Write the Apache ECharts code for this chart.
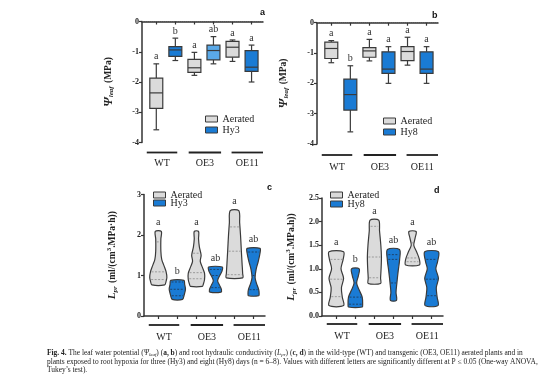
<!DOCTYPE html>
<html><head><meta charset="utf-8">
<script src="https://cdn.jsdelivr.net/npm/echarts@6/dist/echarts.min.js"></script>
<style>html,body{margin:0;padding:0;background:#fff}#c{width:554px;height:389px}</style>
</head><body><div id="c"></div>
<script>
// ---------- data ----------
const groups = ['WT', 'OE3', 'OE11'];
const groupSpans = [[0.5, 2.1], [2.7, 4.4], [4.95, 6.6]];
const posAer = [1, 3, 5];
const posHyp = [2, 4, 6];

// Panel a: Ψleaf (MPa) boxes [min, q1, median, q3, max]
const aAerated = [[-3.58, -2.87, -2.36, -1.87, -1.40], [-1.78, -1.68, -1.53, -1.25, -1.02], [-1.32, -1.18, -0.85, -0.66, -0.61]];
const aHy3 = [[-1.29, -1.15, -0.94, -0.83, -0.55], [-1.40, -1.27, -0.96, -0.78, -0.50], [-2.00, -1.65, -1.51, -0.96, -0.78]];
const aLettersAer = ['a', 'a', 'a'];
const aLettersHyp = ['b', 'ab', 'a'];

// Panel b
const bAerated = [[-1.32, -1.18, -0.85, -0.64, -0.59], [-1.26, -1.14, -0.93, -0.82, -0.55], [-1.40, -1.25, -0.95, -0.79, -0.48]];
const bHy8 = [[-3.60, -2.88, -2.37, -1.86, -1.42], [-2.00, -1.67, -1.53, -0.96, -0.79], [-2.00, -1.67, -1.53, -0.96, -0.79]];
const bLettersAer = ['a', 'a', 'a'];
const bLettersHyp = ['b', 'a', 'a'];

// Panel c: Lpr violins, profile = [value, relative half width]
const cAerProfiles = [
  [[2.09, 0.35], [1.9, 0.3], [1.6, 0.3], [1.4, 0.4], [1.25, 0.65], [1.1, 0.9], [0.95, 1.0], [0.85, 0.9], [0.77, 0.75]],
  [[2.09, 0.25], [1.9, 0.25], [1.7, 0.35], [1.5, 0.55], [1.35, 0.45], [1.2, 0.7], [1.05, 0.95], [0.9, 0.95], [0.78, 0.8], [0.73, 0.7]],
  [[2.6, 0.5], [2.3, 0.6], [2.0, 0.7], [1.6, 0.8], [1.3, 0.88], [1.05, 0.95], [0.94, 0.95]]
];
const cHy3Profiles = [
  [[0.88, 0.77], [0.78, 0.85], [0.66, 0.95], [0.52, 0.8], [0.41, 0.6]],
  [[1.21, 0.8], [1.1, 0.75], [1.0, 0.5], [0.87, 0.25], [0.75, 0.5], [0.65, 0.7], [0.59, 0.65]],
  [[1.67, 0.75], [1.55, 0.75], [1.35, 0.55], [1.15, 0.3], [0.95, 0.18], [0.8, 0.35], [0.65, 0.6], [0.55, 0.65], [0.5, 0.6]]
];
const cAerQuart = [[0.9, 1.09, 1.83], [0.92, 1.07, 1.55], [1.02, 1.6, 2.2]];
const cHy3Quart = [[0.5, 0.66, 0.84], [0.7, 1.0, 1.15], [0.65, 1.0, 1.58]];
const cLettersAer = ['a', 'a', 'a'];
const cLettersHyp = ['b', 'ab', 'ab'];

// Panel d
const dAerProfiles = [
  [[1.36, 0.85], [1.2, 0.8], [1.0, 0.55], [0.8, 0.85], [0.6, 0.6], [0.4, 0.7], [0.22, 0.85]],
  [[2.03, 0.5], [1.8, 0.6], [1.5, 0.75], [1.25, 0.82], [1.0, 0.78], [0.8, 0.72], [0.69, 0.72]],
  [[1.79, 0.42], [1.65, 0.3], [1.5, 0.15], [1.35, 0.5], [1.2, 0.8], [1.08, 0.8]]
];
const dHy8Profiles = [
  [[1.0, 0.45], [0.85, 0.35], [0.7, 0.15], [0.55, 0.45], [0.4, 0.8], [0.25, 0.85], [0.19, 0.8]],
  [[1.41, 0.7], [1.2, 0.72], [0.95, 0.55], [0.7, 0.4], [0.5, 0.3], [0.33, 0.35]],
  [[1.36, 0.8], [1.15, 0.7], [1.0, 0.5], [0.8, 0.8], [0.6, 0.55], [0.4, 0.65], [0.22, 0.75]]
];
const dAerQuart = [[0.41, 0.78, 1.2], [0.81, 1.25, 1.9], [1.15, 1.23, 1.55]];
const dHy8Quart = [[0.25, 0.40, 0.7], [0.7, 1.2, 1.3], [0.43, 0.78, 1.2]];
const dLettersAer = ['a', 'a', 'a'];
const dLettersHyp = ['b', 'ab', 'ab'];

// ---------- styles ----------
const SERIF = '"Liberation Serif","Times New Roman",serif';
const GREY = '#dbdbdb', BLUE = '#1a7bd4', LBLUE = '#5aa9e8', STROKE = '#3a3a3a';
const aHypColors = [BLUE, LBLUE, BLUE];
const plainHyp = [BLUE, BLUE, BLUE];
const plainAer = [GREY, GREY, GREY];

function boxItem(letters, colors) {
  return function (params, api) {
    const i = params.dataIndex;
    const x = api.value(0);
    const mn = api.value(1), q1 = api.value(2), md = api.value(3), q3 = api.value(4), mx = api.value(5);
    const cx = api.coord([x, md])[0];
    const unit = api.size([1, 0])[0];
    const hw = unit * 0.34, cw = unit * 0.15;
    const y = v => api.coord([x, v])[1];
    const ls = { stroke: STROKE, lineWidth: 1.2 };
    return { type: 'group', children: [
      { type: 'line', shape: { x1: cx, y1: y(q3), x2: cx, y2: y(mx) }, style: ls },
      { type: 'line', shape: { x1: cx - cw, y1: y(mx), x2: cx + cw, y2: y(mx) }, style: ls },
      { type: 'line', shape: { x1: cx, y1: y(q1), x2: cx, y2: y(mn) }, style: ls },
      { type: 'line', shape: { x1: cx - cw, y1: y(mn), x2: cx + cw, y2: y(mn) }, style: ls },
      { type: 'rect', shape: { x: cx - hw, y: y(q3), width: 2 * hw, height: y(q1) - y(q3) }, style: { fill: colors[i], stroke: STROKE, lineWidth: 1.2 } },
      { type: 'line', shape: { x1: cx - hw, y1: y(md), x2: cx + hw, y2: y(md) }, style: ls },
      { type: 'text', x: cx, y: y(mx) - 7, style: { text: letters[i], fill: '#333', fontFamily: SERIF, fontSize: 10, align: 'center', verticalAlign: 'middle' } }
    ] };
  };
}

function violinItem(profiles, quarts, letters, fill, qColor) {
  return function (params, api) {
    const i = params.dataIndex;
    const x = api.value(0);
    const prof = profiles[i];
    const cx = api.coord([x, 0])[0];
    const hw = api.size([1, 0])[0] * 0.45;
    const y = v => api.coord([x, v])[1];
    const pts = [];
    prof.forEach(p => pts.push([cx + p[1] * hw, y(p[0])]));
    for (let k = prof.length - 1; k >= 0; k--) pts.push([cx - prof[k][1] * hw, y(prof[k][0])]);
    const widthAt = v => {
      for (let k = 0; k < prof.length - 1; k++) {
        const a = prof[k], b = prof[k + 1];
        if (v <= a[0] && v >= b[0]) { const t = (a[0] - v) / (a[0] - b[0]); return a[1] + (b[1] - a[1]) * t; }
      }
      return 0;
    };
    const children = [{ type: 'polygon', shape: { points: pts, smooth: 0.3 }, style: { fill: fill, stroke: STROKE, lineWidth: 1.2 } }];
    quarts[i].forEach(q => {
      const w = Math.max(0, widthAt(q) * hw - 1);
      children.push({ type: 'line', shape: { x1: cx - w, y1: y(q), x2: cx + w, y2: y(q) }, style: { stroke: qColor, lineWidth: 0.8, lineDash: [2, 1.5] } });
    });
    children.push({ type: 'text', x: cx, y: y(prof[0][0]) - 9, style: { text: letters[i], fill: '#333', fontFamily: SERIF, fontSize: 10, align: 'center', verticalAlign: 'middle' } });
    return { type: 'group', children };
  };
}

function groupItem(lineOff, textOff) {
  return function (params, api) {
    const i = params.dataIndex;
    const xa = api.coord([api.value(0), api.value(2)])[0];
    const xb = api.coord([api.value(1), api.value(2)])[0];
    const yb = params.coordSys.y + params.coordSys.height;
    return { type: 'group', children: [
      { type: 'line', shape: { x1: xa, y1: yb + lineOff, x2: xb, y2: yb + lineOff }, style: { stroke: '#222', lineWidth: 1.8 } },
      { type: 'text', x: (xa + xb) / 2, y: yb + textOff, style: { text: groups[i], fill: '#222', fontFamily: SERIF, fontSize: 10, align: 'center', verticalAlign: 'middle' } }
    ] };
  };
}

const boxData = (pos, arr) => pos.map((p, i) => [p].concat(arr[i]));
const violinData = (pos, profs) => pos.map((p, i) => [p, profs[i][0][0], profs[i][profs[i].length - 1][0]]);
const groupData = (base) => groupSpans.map(s => [s[0], s[1], base]);

const grids = [
  { left: 142, top: 21.5, width: 121, height: 121 },
  { left: 317, top: 22.7, width: 121, height: 121.3 },
  { left: 144, top: 194.5, width: 121, height: 121.5 },
  { left: 322, top: 198, width: 121, height: 118 }
];

const xAxes = grids.map((g, i) => ({
  type: 'value', gridIndex: i, min: 0.25, max: 6.6,
  axisLine: { show: true, lineStyle: { color: '#333', width: 1.5 } },
  axisTick: { show: true, customValues: [1, 2, 3, 4, 5, 6], length: 3, lineStyle: { color: '#333', width: 1.2 } },
  axisLabel: { show: false }, splitLine: { show: false }
}));

const nameRich = {
  psi: { fontFamily: SERIF, fontStyle: 'italic', fontWeight: 'bold', fontSize: 12, color: '#222' },
  l: { fontFamily: SERIF, fontStyle: 'italic', fontWeight: 'bold', fontSize: 11, color: '#222' },
  sub: { fontFamily: SERIF, fontStyle: 'italic', fontWeight: 'bold', fontSize: 7, color: '#222', verticalAlign: 'bottom', padding: [6, 0, 0, 0] },
  sup: { fontFamily: SERIF, fontWeight: 'bold', fontSize: 7, color: '#222', verticalAlign: 'top', padding: [0, 0, 5, 0] },
  u: { fontFamily: SERIF, fontWeight: 'bold', fontSize: 9.5, color: '#222' }
};

function yAxis(i, min, max, interval, name, gap, fmt) {
  return {
    type: 'value', gridIndex: i, min, max, interval,
    name, nameLocation: 'middle', nameGap: gap, nameRotate: 90,
    nameTextStyle: { rich: nameRich },
    axisLine: { show: true, lineStyle: { color: '#333', width: 1.5 } },
    axisTick: { show: true, length: 3, lineStyle: { color: '#333', width: 1.2 } },
    axisLabel: { fontFamily: SERIF, fontWeight: 'bold', fontSize: 8, color: '#222', margin: 3, formatter: fmt },
    splitLine: { show: false }
  };
}

const zeroLine = { silent: true, symbol: 'none', label: { show: false }, lineStyle: { type: 'dotted', color: '#555', width: 1 }, data: [{ yAxis: 0 }] };

const legendBase = (left, top, hypName, gap) => ({
  left, top, orient: 'vertical', itemWidth: 12, itemHeight: 6, itemGap: gap, padding: 0,
  selectedMode: false,
  textStyle: { fontFamily: SERIF, fontSize: 10, color: '#222', lineHeight: 10 },
  data: [
    { name: 'Aerated', icon: 'rect', itemStyle: { color: GREY, borderColor: STROKE, borderWidth: 1 } },
    { name: hypName, icon: 'rect', itemStyle: { color: BLUE, borderColor: STROKE, borderWidth: 1 } }
  ]
});

const caption1 = '{b|Fig. 4.} The leaf water potential ({i|Ψ}{s|leaf}) ({b|a, b}) and root hydraulic conductivity ({i|L}{s|pr}) ({b|c, d}) in the wild-type (WT) and transgenic (OE3, OE11) aerated plants and in';
const caption2 = 'plants exposed to root hypoxia for three (Hy3) and eight (Hy8) days (n = 6–8). Values with different letters are significantly different at P ≤ 0.05 (One-way ANOVA,';
const caption3 = 'Tukey\u2019s test).';
const CAPSIZE = 7.45;
const capRich = {
  b: { fontFamily: SERIF, fontWeight: 'bold', fontSize: CAPSIZE, color: '#222' },
  i: { fontFamily: SERIF, fontStyle: 'italic', fontSize: CAPSIZE, color: '#222' },
  s: { fontFamily: SERIF, fontStyle: 'italic', fontSize: 5, color: '#222', verticalAlign: 'bottom' }
};
const capText = (t, top) => ({ type: 'text', left: 47, top, style: { text: t, fontFamily: SERIF, fontSize: CAPSIZE, fill: '#222', rich: capRich } });
const panelLabel = (t, x, y) => ({ type: 'text', left: x, top: y, style: { text: t, font: 'bold 9px "Liberation Sans", Arial, sans-serif', fill: '#111' } });

const option = {
  animation: false,
  backgroundColor: '#fff',
  grid: grids,
  xAxis: xAxes,
  yAxis: [
    yAxis(0, -4, 0, 1, '{psi|Ψ}{sub|leaf} {u|(MPa)}', 27, v => String(v)),
    yAxis(1, -4, 0, 1, '{psi|Ψ}{sub|leaf} {u|(MPa)}', 27, v => String(v)),
    yAxis(2, 0, 3, 1, '{l|L}{sub|pr} {u|(ml/(cm}{sup|3}{u|.MPa·h))}', 25, v => String(v)),
    yAxis(3, 0, 2.5, 0.5, '{l|L}{sub|pr} {u|(ml/(cm}{sup|3}{u|.MPa.h))}', 24, v => v.toFixed(1))
  ],
  legend: [
    legendBase(205, 114, 'Hy3', 1),
    legendBase(383, 116, 'Hy8', 1),
    legendBase(153, 190, 'Hy3', -2),
    legendBase(330, 190, 'Hy8', -1)
  ],
  graphic: [
    panelLabel('a', 260, 8),
    panelLabel('b', 432, 11),
    panelLabel('c', 267, 183),
    panelLabel('d', 434, 186),
    capText(caption1, 350),
    capText(caption2, 358.5),
    capText(caption3, 367)
  ],
  series: [
    { type: 'custom', name: 'Aerated', xAxisIndex: 0, yAxisIndex: 0, itemStyle: { color: GREY }, renderItem: boxItem(aLettersAer, plainAer), encode: { x: 0, y: [1, 2, 3, 4, 5] }, data: boxData(posAer, aAerated), markLine: zeroLine },
    { type: 'custom', name: 'Hy3', xAxisIndex: 0, yAxisIndex: 0, itemStyle: { color: BLUE }, renderItem: boxItem(aLettersHyp, aHypColors), encode: { x: 0, y: [1, 2, 3, 4, 5] }, data: boxData(posHyp, aHy3) },
    { type: 'custom', name: 'Aerated', xAxisIndex: 1, yAxisIndex: 1, itemStyle: { color: GREY }, renderItem: boxItem(bLettersAer, plainAer), encode: { x: 0, y: [1, 2, 3, 4, 5] }, data: boxData(posAer, bAerated), markLine: zeroLine },
    { type: 'custom', name: 'Hy8', xAxisIndex: 1, yAxisIndex: 1, itemStyle: { color: BLUE }, renderItem: boxItem(bLettersHyp, plainHyp), encode: { x: 0, y: [1, 2, 3, 4, 5] }, data: boxData(posHyp, bHy8) },
    { type: 'custom', name: 'Aerated', xAxisIndex: 2, yAxisIndex: 2, itemStyle: { color: GREY }, renderItem: violinItem(cAerProfiles, cAerQuart, cLettersAer, GREY, '#8a8a8a'), encode: { x: 0, y: [1, 2] }, data: violinData(posAer, cAerProfiles) },
    { type: 'custom', name: 'Hy3', xAxisIndex: 2, yAxisIndex: 2, itemStyle: { color: BLUE }, renderItem: violinItem(cHy3Profiles, cHy3Quart, cLettersHyp, BLUE, '#1d3550'), encode: { x: 0, y: [1, 2] }, data: violinData(posHyp, cHy3Profiles) },
    { type: 'custom', name: 'Aerated', xAxisIndex: 3, yAxisIndex: 3, itemStyle: { color: GREY }, renderItem: violinItem(dAerProfiles, dAerQuart, dLettersAer, GREY, '#8a8a8a'), encode: { x: 0, y: [1, 2] }, data: violinData(posAer, dAerProfiles) },
    { type: 'custom', name: 'Hy8', xAxisIndex: 3, yAxisIndex: 3, itemStyle: { color: BLUE }, renderItem: violinItem(dHy8Profiles, dHy8Quart, dLettersHyp, BLUE, '#1d3550'), encode: { x: 0, y: [1, 2] }, data: violinData(posHyp, dHy8Profiles) },
    { type: 'custom', name: 'groupsA', xAxisIndex: 0, yAxisIndex: 0, renderItem: groupItem(10, 21), encode: { x: [0, 1], y: 2 }, data: groupData(-4) },
    { type: 'custom', name: 'groupsB', xAxisIndex: 1, yAxisIndex: 1, renderItem: groupItem(11, 23), encode: { x: [0, 1], y: 2 }, data: groupData(-4) },
    { type: 'custom', name: 'groupsC', xAxisIndex: 2, yAxisIndex: 2, renderItem: groupItem(9, 21), encode: { x: [0, 1], y: 2 }, data: groupData(0) },
    { type: 'custom', name: 'groupsD', xAxisIndex: 3, yAxisIndex: 3, renderItem: groupItem(8, 20), encode: { x: [0, 1], y: 2 }, data: groupData(0) }
  ]
};
const chart = echarts.init(document.getElementById('c'), null, { renderer: 'canvas' });
chart.setOption(option);
</script></body></html>
